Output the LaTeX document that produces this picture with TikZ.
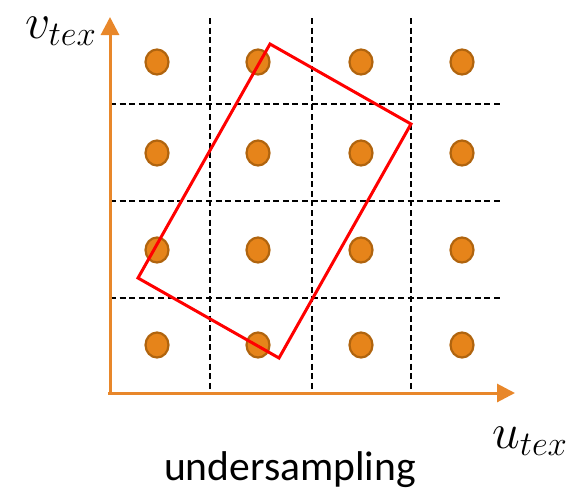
\documentclass[tikz,border=0pt]{standalone}
\usepackage{fontspec}
\setmainfont{Carlito}
\usetikzlibrary{arrows.meta,shapes.geometric}
\definecolor{axisor}{HTML}{E8872A}
\definecolor{dotfill}{HTML}{E6841A}
\definecolor{dotedge}{HTML}{B0640E}
\tikzset{
  axis/.style={draw=axisor, line width=1.5pt, -{Triangle[length=9pt,width=9pt]}},
  grid/.style={draw=black, line width=1pt, dash pattern=on 3pt off 1.8pt},
  dot/.style={ellipse, draw=dotedge, fill=dotfill, line width=1.1pt, minimum width=11.5pt, minimum height=12.5pt, inner sep=0pt},
  footprint/.style={draw=red, line width=1.5pt, line join=miter},
}
\begin{document}
\begin{tikzpicture}[x=0.5pt,y=-0.5pt]
\useasboundingbox (0,0) rectangle (578,493);
% grid lines
\foreach \gx [count=\i] in {210,312,411} {
  \coordinate (gt\i) at (\gx,18);
  \coordinate (gb\i) at (\gx,392);
  \draw[grid] (gt\i) -- (gb\i);
}
\foreach \gy [count=\i] in {104,201,298} {
  \coordinate (gl\i) at (110,\gy);
  \coordinate (gr\i) at (500,\gy);
  \draw[grid] (gl\i) -- (gr\i);
}
% dots
\foreach \dx [count=\i] in {157,258,361,462} {
  \foreach \dy [count=\j] in {62,153,250,345} {
    \node[dot] (d\i\j) at (\dx,\dy) {};
  }
}
% axes
\coordinate (o) at (110,393);
\coordinate (vt) at (110,17);
\coordinate (ut) at (515,393);
\draw[axis] (o) -- (vt);
\draw[axis] (108,393) -- (ut);
% footprint
\coordinate (p1) at (270,44);
\coordinate (p2) at (411,124);
\coordinate (p3) at (279,358);
\coordinate (p4) at (138,278);
\draw[footprint] (p1) -- (p2) -- (p3) -- (p4) -- cycle;
% labels
\node[anchor=base] (vl) at (61,38) {\fontsize{24.5}{28}\selectfont$v_{tex}$};
\node[anchor=base] (ul) at (530,448) {\fontsize{24.5}{28}\selectfont$u_{tex}$};
\node[anchor=base] (cap) at (290,480) {\fontsize{20.8}{24}\selectfont undersampling};
\end{tikzpicture}
\end{document}
